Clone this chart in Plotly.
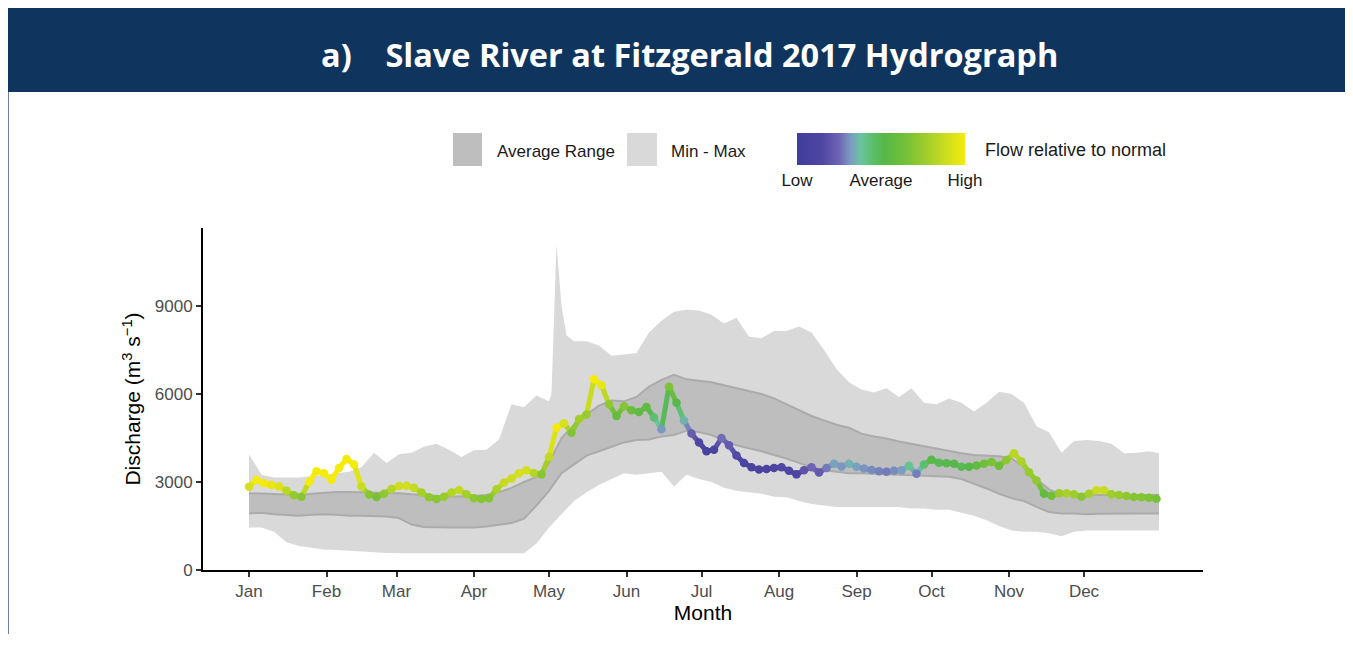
"""Hidrograma 2017 del río Slave en Fitzgerald."""

import numpy as np
import plotly.graph_objects as go
from plotly.colors import sample_colorscale

# --- datos (día del año, m3/s) ---------------------------------------------
band_days = [1, 6, 11, 16, 21, 26, 31, 36, 41, 46, 51, 56, 61, 66, 71, 76, 81, 86,
             91, 96, 101, 106, 111, 116, 121, 126, 131, 136, 141, 146, 151, 156,
             161, 166, 171, 176, 181, 186, 191, 196, 201, 206, 211, 216, 221, 226,
             231, 236, 241, 246, 251, 256, 261, 266, 271, 276, 281, 286, 291, 296,
             301, 306, 311, 316, 321, 326, 331, 336, 341, 346, 351, 356, 361, 365]

max_days = band_days[:25] + [122, 124, 126, 128] + band_days[26:]
flow_max = [3950, 3250, 3150, 3150, 3150, 3200, 3250, 3300, 3350, 3500, 4000, 3650,
            3950, 4000, 4200, 4300, 4100, 3850, 4080, 4100, 4450, 5650, 5550, 5950,
            5750, 6000, 11100, 9000, 8000, 7800, 7800, 7650, 7300, 7350, 7400, 8100,
            8500, 8800, 8870, 8850, 8700, 8400, 8600, 7950, 7900, 8150, 8150, 8300,
            8100, 7500, 6850, 6400, 6150, 6050, 6200, 5900, 6200, 5700, 5650, 5850,
            5700, 5400, 5700, 6080, 6000, 5700, 4900, 4700, 4000, 4400, 4430, 4400,
            4300, 3980, 4000, 4050, 3980]

flow_min = [1450, 1450, 1300, 950, 820, 750, 700, 680, 650, 620, 600, 580, 570, 570,
            560, 560, 560, 560, 560, 560, 560, 560, 570, 900, 1450, 1900, 2350, 2650,
            2900, 3100, 3300, 3250, 3300, 3350, 2850, 3250, 3100, 3000, 2800, 2700,
            2650, 2600, 2500, 2480, 2350, 2250, 2200, 2150, 2150, 2150, 2150, 2150,
            2150, 2100, 2100, 2050, 2050, 1950, 1850, 1700, 1500, 1350, 1300, 1300,
            1250, 1150, 1300, 1350, 1350, 1350, 1350, 1350, 1350, 1350]

avg_hi = [2620, 2600, 2600, 2580, 2560, 2600, 2640, 2660, 2660, 2650, 2650, 2640,
          2620, 2580, 2560, 2520, 2500, 2510, 2520, 2560, 2650, 2800, 3000, 3170,
          3650, 4500, 4950, 5300, 5600, 5780, 5750, 5900, 6250, 6480, 6650, 6500,
          6450, 6400, 6300, 6200, 6100, 6000, 5850, 5650, 5450, 5250, 5100, 4950,
          4850, 4650, 4550, 4480, 4380, 4300, 4230, 4150, 4050, 3980, 3920, 3900,
          3880, 3800, 3520, 3100, 2750, 2570, 2560, 2560, 2560, 2560, 2560, 2560,
          2560, 2560]

avg_lo = [1930, 1950, 1900, 1880, 1850, 1880, 1900, 1880, 1850, 1850, 1830, 1820,
          1770, 1550, 1470, 1450, 1450, 1450, 1450, 1480, 1550, 1600, 1750, 2200,
          2700, 3300, 3600, 3900, 4050, 4200, 4350, 4430, 4450, 4550, 4600, 4750,
          4700, 4600, 4430, 4250, 4150, 4050, 3920, 3800, 3650, 3500, 3400, 3350,
          3300, 3300, 3280, 3280, 3250, 3220, 3200, 3200, 3180, 3100, 2950, 2780,
          2600, 2450, 2350, 2150, 1980, 1930, 1930, 1900, 1920, 1930, 1930, 1930,
          1930, 1930]

flow_days = list(range(1, 366, 3))
flow_2017 = [2840, 3070, 2960, 2900, 2850, 2700, 2550, 2500, 3000, 3370, 3300, 3080,
             3480, 3780, 3600, 2850, 2570, 2490, 2600, 2760, 2860, 2870, 2800, 2640,
             2480, 2420, 2500, 2640, 2730, 2580, 2450, 2420, 2450, 2750, 2980, 3120,
             3300, 3400, 3300, 3260, 3850, 4850, 5000, 4680, 5150, 5300, 6500, 6300,
             5650, 5250, 5580, 5450, 5390, 5560, 5200, 4800, 6250, 5700, 5100, 4650,
             4350, 4050, 4100, 4500, 4250, 3900, 3650, 3500, 3430, 3440, 3480, 3500,
             3380, 3260, 3400, 3500, 3320, 3480, 3620, 3530, 3620, 3520, 3460, 3410,
             3370, 3350, 3380, 3400, 3550, 3280, 3600, 3760, 3660, 3640, 3620, 3520,
             3520, 3560, 3620, 3680, 3550, 3750, 3980, 3700, 3330, 3050, 2600, 2530,
             2620, 2620, 2580, 2500, 2600, 2720, 2720, 2580, 2560, 2520, 2490, 2480,
             2460, 2430]

month_days = [1, 32, 60, 91, 121, 152, 182, 213, 244, 274, 305, 335]
month_labels = ["Jan", "Feb", "Mar", "Apr", "May", "Jun", "Jul", "Aug", "Sep",
                "Oct", "Nov", "Dec"]

# --- estilo -----------------------------------------------------------------
NAVY = "#0F355E"
AXIS_FONT = "Liberation Sans, Arial, sans-serif"
FLOW_SCALE = [
    [0.00, "#3E3E9B"],
    [0.15, "#4F46A2"],
    [0.25, "#6E64B3"],
    [0.32, "#7C9CC2"],
    [0.38, "#6BC4A0"],
    [0.45, "#5CBE6A"],
    [0.52, "#55B847"],
    [0.64, "#72C037"],
    [0.76, "#9DCC2C"],
    [0.88, "#CADD1F"],
    [1.00, "#F4EB0B"],
]
CMIN, CMAX = -0.5, 1.5

# La página añade 8 px de margen; coordenadas de referencia en px de página.
PAGE_OFF = 8
W, H = 1353 - PAGE_OFF, 626
L, R, T, B = 203, 1203, 228, 570  # área del gráfico (px de página)


def px(xp):
    return (xp - L) / (R - L)


def py(yp):
    return (B - yp) / (B - T)


# posición del caudal dentro del rango promedio (0 = borde inferior, 1 = superior)
lo_at = np.interp(flow_days, band_days, avg_lo)
hi_at = np.interp(flow_days, band_days, avg_hi)
rel = (np.array(flow_2017) - lo_at) / (hi_at - lo_at)
norm = np.clip((rel - CMIN) / (CMAX - CMIN), 0, 1)

fig = go.Figure()

# Min - Max
fig.add_trace(go.Scatter(x=max_days, y=flow_max, mode="lines", line=dict(width=0),
                         showlegend=False, hoverinfo="skip"))
fig.add_trace(go.Scatter(x=band_days, y=flow_min, mode="lines", line=dict(width=0),
                         fill="tonexty", fillcolor="#D9D9D9", showlegend=False,
                         hoverinfo="skip"))
# Average range
fig.add_trace(go.Scatter(x=band_days, y=avg_hi, mode="lines",
                         line=dict(color="#ABABAB", width=2), showlegend=False,
                         hoverinfo="skip"))
fig.add_trace(go.Scatter(x=band_days, y=avg_lo, mode="lines",
                         line=dict(color="#ABABAB", width=2), fill="tonexty",
                         fillcolor="#BEBEBE", showlegend=False, hoverinfo="skip"))

# segmentos coloreados del caudal 2017
seg_cols = sample_colorscale(FLOW_SCALE, list((norm[:-1] + norm[1:]) / 2))
for i, col in enumerate(seg_cols):
    fig.add_trace(go.Scatter(
        x=flow_days[i:i + 2], y=flow_2017[i:i + 2], mode="lines",
        line=dict(color=col, width=5), showlegend=False, hoverinfo="skip"))

fig.add_trace(go.Scatter(
    x=flow_days, y=flow_2017, mode="markers", showlegend=False,
    marker=dict(
        size=8.5, color=rel, colorscale=FLOW_SCALE, cmin=CMIN, cmax=CMAX,
        colorbar=dict(
            orientation="h", lenmode="pixels", len=168, thickness=32,
            x=px(881), xanchor="center", y=py(133), yanchor="top",
            xpad=0, ypad=0, outlinewidth=0, ticks="",
            tickvals=[CMIN, (CMIN + CMAX) / 2, CMAX],
            ticktext=["Low", "Average", "High"],
            tickfont=dict(size=17, color="#1A1A1A", family=AXIS_FONT),
        ),
    ),
    hovertemplate="Day %{x}<br>%{y:.0f} m³/s<extra></extra>",
))

shapes = [
    # marco y cabecera
    dict(type="rect", xref="paper", yref="paper", x0=px(8), x1=px(1362),
         y0=py(7), y1=py(660), line=dict(color="#3E5A80", width=1.5),
         fillcolor="rgba(0,0,0,0)", layer="below"),
    dict(type="rect", xref="paper", yref="paper", x0=px(8), x1=px(1362),
         y0=py(8), y1=py(92), line=dict(width=0), fillcolor=NAVY),
    # leyenda manual
    dict(type="rect", xref="paper", yref="paper", x0=px(453), x1=px(482),
         y0=py(133), y1=py(166), line=dict(width=0), fillcolor="#BEBEBE"),
    dict(type="rect", xref="paper", yref="paper", x0=px(627), x1=px(657),
         y0=py(133), y1=py(166), line=dict(width=0), fillcolor="#D9D9D9"),
]
for tx in [827, 872, 917, 963]:
    for y0, y1 in [(133, 139), (159, 165)]:
        shapes.append(dict(type="line", xref="paper", yref="paper", x0=px(tx),
                           x1=px(tx), y0=py(y0), y1=py(y1),
                           line=dict(color="white", width=1)))

annotations = [
    dict(text="a)\u00a0\u00a0\u00a0\u00a0Slave River at Fitzgerald 2017 Hydrograph",
         x=px(689), y=py(54), xref="paper", yref="paper", showarrow=False,
         xanchor="center", yanchor="middle",
         font=dict(size=32.5, color="white", family="Open Sans, sans-serif",
                   weight=700)),
    dict(text="Average Range", x=px(495), y=py(152), xref="paper", yref="paper",
         showarrow=False, xanchor="left", yanchor="middle",
         font=dict(size=17, color="#1A1A1A", family=AXIS_FONT)),
    dict(text="Min - Max", x=px(669), y=py(152), xref="paper", yref="paper",
         showarrow=False, xanchor="left", yanchor="middle",
         font=dict(size=17, color="#1A1A1A", family=AXIS_FONT)),
    dict(text="Flow relative to normal", x=px(983), y=py(150), xref="paper",
         yref="paper", showarrow=False, xanchor="left", yanchor="middle",
         font=dict(size=18, color="#1A1A1A", family=AXIS_FONT)),
]

fig.update_layout(
    width=W, height=H, autosize=False,
    margin=dict(l=L - PAGE_OFF, r=W - (R - PAGE_OFF), t=T - PAGE_OFF,
                b=H - (B - PAGE_OFF)),
    paper_bgcolor="white", plot_bgcolor="white",
    shapes=shapes, annotations=annotations,
    font=dict(family=AXIS_FONT),
)
fig.update_xaxes(
    range=[1 + (L - 249) / 2.5, 1 + (R - 249) / 2.5],
    tickvals=month_days, ticktext=month_labels,
    showline=True, linecolor="black", linewidth=2, showgrid=False, zeroline=False,
    ticks="outside", ticklen=5, tickwidth=1.5, tickcolor="#333333",
    tickfont=dict(size=17, color="#4D4D4D"),
    title=dict(text="Month", font=dict(size=21, color="black"), standoff=4),
)
fig.update_yaxes(
    range=[0, (B - T) / 88 * 3000],
    tickvals=[0, 3000, 6000, 9000],
    showline=True, linecolor="black", linewidth=2, showgrid=False, zeroline=False,
    ticks="outside", ticklen=5, tickwidth=1.5, tickcolor="#333333",
    tickfont=dict(size=17, color="#4D4D4D"),
    title=dict(text="Discharge (m<sup>3</sup> s<sup>\u22121</sup>)",
               font=dict(size=21, color="black"), standoff=8),
)

fig.write_html("out.html")
